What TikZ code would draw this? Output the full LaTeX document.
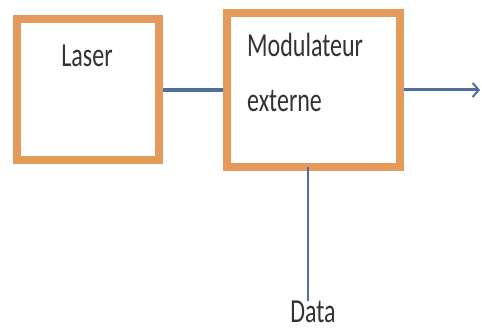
\documentclass[tikz,border=0pt]{standalone}
\usepackage{fontspec}
\setmainfont{Carlito}
\usetikzlibrary{arrows.meta}
\definecolor{boxor}{HTML}{E59A5C}
\definecolor{linebl}{HTML}{4F6F9F}
\begin{document}
\begin{tikzpicture}[x=1pt,y=-1pt,
  blockbox/.style={draw=boxor,line width=8pt,fill=white},
  lbl/.style={font=\fontsize{24}{26}\selectfont,text=black!80,inner sep=0pt},
  conn/.style={draw=linebl,line width=4.5pt},
  thinconn/.style={draw=linebl,line width=3pt}]
\useasboundingbox (0,0) rectangle (482,331);
\fill[white] (0,0) rectangle (482,331);
\node[blockbox,minimum width=142pt,minimum height=141pt,inner sep=0pt] (laser) at (88,89.5) {};
\node[blockbox,minimum width=173pt,minimum height=154pt,inner sep=0pt] (mod) at (313.5,90) {};
\node[lbl] (lt) at (87,56) {\scalebox{1}[1.4]{Laser}};
\node[lbl,anchor=west] (mt1) at (247,45) {\scalebox{1}[1.4]{Modulateur}};
\node[lbl,anchor=west] (mt2) at (247,101) {\scalebox{1}[1.4]{externe}};
\node[lbl] (data) at (313,312) {\scalebox{1}[1.4]{Data}};
\coordinate (out) at (480,90);
\draw[conn] (laser.east |- 0,90) -- (mod.west |- 0,90);
\draw[thinconn,-{Straight Barb[length=6pt,width=14pt,line width=2pt]}] (mod.east |- 0,90) -- (out);
\draw[draw=linebl,line width=2.6pt] (308,167) -- (data.north -| 308,0);
\end{tikzpicture}
\end{document}
